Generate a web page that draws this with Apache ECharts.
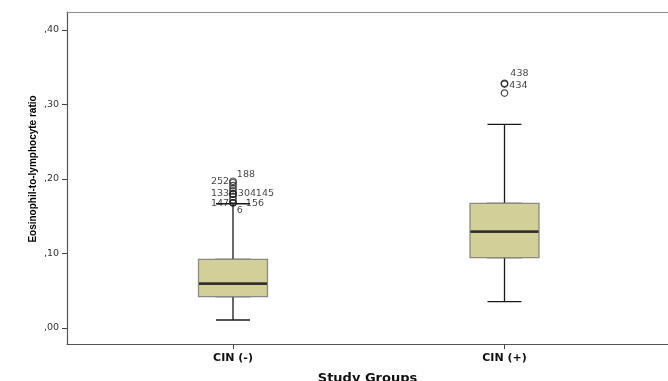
<!DOCTYPE html>
<html>
<head>
<meta charset="utf-8">
<script src="https://cdn.jsdelivr.net/npm/echarts@6/dist/echarts.min.js"></script>
<style>
html,body{margin:0;padding:0;background:#fff;}
#chart{width:668px;height:381px;}
</style>
</head>
<body>
<div id="chart"></div>
<script>
// ---- data ----
const categories = ['CIN (-)', 'CIN (+)'];
const minVals    = [0.0107, 0.0353];
const q1Vals     = [0.0420, 0.0944];
const medianVals = [0.0595, 0.1293];
const q3Vals     = [0.0922, 0.1674];
const maxVals    = [0.1668, 0.2734];

const outlierGroup = [0, 0, 0, 0, 0, 0, 0, 0, 0, 0, 0, 0, 0, 1, 1, 1];
const outlierVals  = [0.197, 0.195, 0.191, 0.187, 0.184, 0.180, 0.180, 0.180, 0.176, 0.172, 0.168, 0.168, 0.168, 0.3285, 0.3275, 0.3154];
const outlierIds   = ['188', '252', '', '', '', '133', '304', '145', '', '', '147', '156', '6', '438', '434', ''];

const yTicks = [0, 0.1, 0.2, 0.3, 0.4];

// ---- label placement (style, kept apart from data) ----
const labelPlace = {
  '188': {position: 'right', offset: [0, -7]},
  '252': {position: 'left', offset: [0, -1]},
  '133': {position: 'left', offset: [0, 0]},
  '304': {position: 'right', offset: [1, 0]},
  '145': {position: 'right', offset: [19, 0]},
  '147': {position: 'left', offset: [0, 1]},
  '156': {position: 'right', offset: [9, 1]},
  '6':   {position: 'right', offset: [0, 8]},
  '438': {position: 'right', offset: [2, -10]},
  '434': {position: 'right', offset: [1, 1]}
};

const xPos = categories.map((c, i) => i + 1);

const whiskerData = categories.map((c, i) => [xPos[i], minVals[i], q1Vals[i], medianVals[i], q3Vals[i], maxVals[i]]);
const boxData = categories.map((c, i) => [xPos[i], q1Vals[i], q1Vals[i], medianVals[i], q3Vals[i], q3Vals[i]]);
const medianData = categories.map((c, i) => [xPos[i], medianVals[i]]);
const outlierData = outlierVals.map((v, k) => {
  const id = outlierIds[k];
  const item = {value: [xPos[outlierGroup[k]], v]};
  if (id) {
    const p = labelPlace[id];
    item.label = {show: true, formatter: id, position: p.position, offset: p.offset, distance: 0};
  }
  return item;
});

const X_MIN = 0.3886, X_MAX = 2.6022;

const chart = echarts.init(document.getElementById('chart'));
chart.setOption({
  animation: false,
  grid: {left: 67, right: 0, top: 12, bottom: 37, show: false, outerBoundsMode: 'none', containLabel: false},
  xAxis: [{
    type: 'value',
    min: X_MIN, max: X_MAX,
    splitLine: {show: false},
    axisLine: {show: true, onZero: false, lineStyle: {color: '#555', width: 1.2}},
    axisTick: {show: true, length: 5, customValues: xPos, lineStyle: {color: '#444'}},
    axisLabel: {
      customValues: xPos, margin: 9,
      formatter: v => categories[Math.round(v) - 1],
      fontFamily: 'DejaVu Sans', fontWeight: 'bold', fontSize: 11, color: '#111'
    },
    name: 'Study Groups', nameLocation: 'middle', nameGap: 28,
    nameTextStyle: {fontFamily: 'DejaVu Sans', fontWeight: 'bold', fontSize: 13, color: '#111'}
  }, {
    type: 'value', position: 'top',
    min: X_MIN, max: X_MAX,
    splitLine: {show: false},
    axisLine: {show: true, onZero: false, lineStyle: {color: '#8c8c8c', width: 1.2}},
    axisTick: {show: false},
    axisLabel: {show: false}
  }],
  yAxis: {
    type: 'value',
    min: -0.0215, max: 0.4242,
    splitLine: {show: false},
    axisLine: {show: true, onZero: false, lineStyle: {color: '#555', width: 1.2}},
    axisTick: {show: true, length: 5, customValues: yTicks, lineStyle: {color: '#444'}},
    axisLabel: {
      customValues: yTicks, margin: 8,
      formatter: v => v.toFixed(2).replace(/^0\./, ','),
      fontFamily: 'DejaVu Sans', fontSize: 9.5, color: '#333'
    },
    name: 'Eosinophil-to-lymphocyte ratio', nameLocation: 'middle', nameGap: 29, nameMoveOverlap: false,
    nameTextStyle: {fontFamily: 'Liberation Sans', fontWeight: 'bold', fontSize: 10, color: '#000', padding: [0, 0, 0, 18]}
  },
  series: [
    {
      type: 'boxplot', name: 'whisker', data: whiskerData,
      xAxisIndex: 1,
      boxWidth: [34, 34],
      itemStyle: {color: 'rgba(0,0,0,0)', borderColor: '#1a1a1a', borderWidth: 1.3},
      z: 2
    },
    {
      type: 'boxplot', name: 'box', data: boxData,
      xAxisIndex: 0,
      boxWidth: [69, 69],
      itemStyle: {color: '#d3cf99', borderColor: '#8a8a84', borderWidth: 1.3},
      z: 3
    },
    {
      type: 'scatter', name: 'median', data: medianData,
      symbol: 'rect', symbolSize: [68, 2.6],
      itemStyle: {color: '#151515'},
      z: 4
    },
    {
      type: 'scatter', name: 'outliers', data: outlierData,
      symbol: 'circle', symbolSize: 6.5,
      itemStyle: {color: 'rgba(0,0,0,0)', borderColor: '#222', borderWidth: 1.2},
      label: {fontFamily: 'DejaVu Sans', fontSize: 9.5, color: '#111'},
      z: 5
    }
  ]
});
</script>
</body>
</html>
